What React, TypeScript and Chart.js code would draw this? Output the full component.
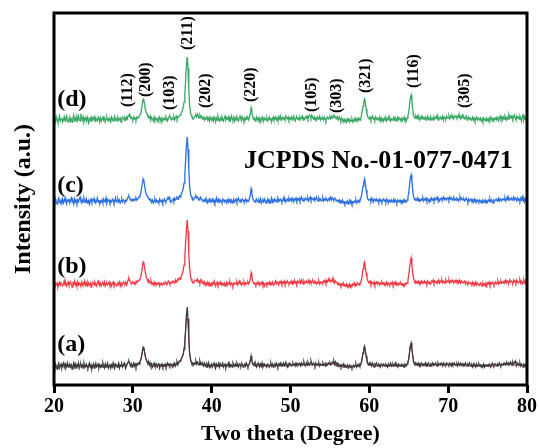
import React, { useEffect, useRef } from "react";
import { Chart, registerables } from "chart.js";

Chart.register(...registerables);

// 2θ grid: 20° to 80°; measured patterns in 0.1° steps (601 points), fit in 0.2° steps
const TWO_THETA_START = 20;
const TWO_THETA_STEP = 0.1;
const FIT_STEP = 0.2;

// Raw intensities (a.u.); each row = 1° of 2θ
const SAMPLE_D = [
  8,12,9,13,10,7,11,14,9,11,
  12,8,10,13,9,12,14,10,8,11,
  13,9,11,8,12,15,10,12,9,13,
  10,14,11,9,16,12,10,13,8,11,
  12,9,13,10,7,11,12,9,14,10,
  11,13,8,12,10,9,13,11,8,12,
  9,11,14,10,12,8,11,13,10,9,
  12,10,8,13,11,9,12,14,10,11,
  9,13,11,10,12,8,11,13,12,10,
  12,10,13,11,14,15,16,12,13,11,
  10,13,11,12,10,13,12,12,14,14,
  16,20,26,31,30,25,20,18,16,14,
  13,12,14,10,12,11,9,13,10,12,
  11,9,12,10,13,11,8,12,10,11,
  12,10,13,11,9,12,13,14,12,10,
  12,11,13,10,12,14,11,13,13,14,
  15,16,18,20,23,28,36,50,65,73,
  62,40,25,18,15,13,12,11,13,14,
  15,13,16,14,12,15,13,14,11,12,
  13,10,12,11,14,10,12,9,13,11,
  10,12,9,13,11,8,12,10,14,11,
  9,12,10,13,11,9,12,14,10,12,
  11,13,9,12,10,14,11,10,13,9,
  12,10,13,11,9,12,14,11,10,13,
  11,9,12,10,13,11,12,10,13,16,
  22,18,13,11,12,9,11,13,10,12,
  10,12,8,11,13,10,9,12,11,10,
  12,9,11,13,10,12,8,11,13,10,
  11,13,10,12,9,13,11,14,10,12,
  13,11,12,10,14,12,11,13,10,12,
  11,13,10,12,14,11,9,12,13,11,
  12,10,13,11,12,14,10,12,11,13,
  12,14,11,13,15,14,12,15,13,11,
  13,11,12,10,13,11,12,14,10,12,
  11,12,10,13,11,9,12,13,11,12,
  13,11,14,12,13,15,14,12,13,11,
  12,10,13,11,9,12,10,8,11,9,
  10,8,11,9,12,8,10,9,11,8,
  10,9,12,10,11,9,12,10,11,10,
  15,19,24,29,31,27,21,16,13,12,
  11,13,10,12,14,11,12,10,13,11,
  12,10,11,13,9,12,10,11,9,12,
  10,12,9,11,13,10,12,9,11,10,
  11,13,10,12,9,11,13,10,12,11,
  10,12,9,11,13,10,11,9,12,14,
  18,25,32,35,29,21,15,13,12,14,
  12,14,11,13,10,12,14,11,13,12,
  11,13,10,12,14,11,12,10,13,11,
  12,10,13,11,12,14,11,13,10,12,
  13,11,12,14,10,13,12,11,14,12,
  12,14,11,13,15,12,13,11,14,13,
  14,12,13,15,12,14,11,13,15,12,
  13,11,12,14,10,12,13,11,12,10,
  11,13,10,12,9,11,13,10,12,11,
  10,12,9,11,8,12,10,11,9,12,
  11,9,12,10,13,11,9,12,10,11,
  12,10,13,11,9,12,14,11,13,10,
  13,11,14,12,10,13,11,15,12,14,
  12,14,11,13,15,12,10,14,12,13,
  11,14,12,9,13,15,10,13,11,14,
  8,
];

const SAMPLE_C = [
  11,9,13,10,8,12,14,10,9,12,
  10,13,9,11,14,10,8,12,11,13,
  9,12,14,10,11,8,13,10,12,9,
  12,10,13,15,11,9,12,10,14,11,
  10,13,9,11,12,8,11,13,10,12,
  13,10,12,9,11,14,10,12,8,11,
  10,12,9,13,11,10,14,9,12,11,
  12,9,11,10,13,12,9,11,14,10,
  11,13,10,12,9,11,13,10,12,11,
  10,12,11,13,15,16,14,12,11,13,
  12,11,13,12,14,12,13,14,15,16,
  19,23,28,33,31,26,21,18,16,15,
  14,12,13,11,10,12,9,11,13,10,
  12,10,11,9,13,11,10,12,9,11,
  13,11,10,12,14,13,15,12,11,10,
  12,13,11,14,12,13,15,14,13,16,
  15,17,19,21,24,29,38,52,67,75,
  63,42,26,19,16,14,13,12,14,15,
  16,14,15,13,12,14,15,13,12,11,
  12,11,13,10,12,9,11,13,10,12,
  11,13,10,12,9,11,14,10,12,13,
  10,12,11,9,13,12,10,12,11,9,
  12,10,13,11,10,12,9,11,13,10,
  11,13,10,12,14,11,10,12,11,13,
  12,10,11,13,10,12,11,11,14,17,
  23,19,14,12,11,10,12,13,11,10,
  12,10,13,9,11,12,10,13,11,9,
  11,13,10,12,9,11,14,10,12,11,
  13,11,12,10,14,12,11,13,12,10,
  12,14,11,13,10,12,13,11,14,12,
  13,11,14,12,10,13,12,14,11,13,
  12,14,11,13,15,12,11,13,12,14,
  13,12,14,11,13,15,12,14,13,12,
  14,12,13,15,12,11,14,12,13,11,
  12,14,11,13,12,14,13,11,12,14,
  13,15,12,14,13,12,14,13,11,12,
  11,10,12,9,11,10,12,9,10,8,
  10,9,11,8,10,12,9,11,8,10,
  9,11,10,12,9,11,10,12,11,13,
  16,21,26,30,33,28,22,17,13,12,
  12,13,11,14,12,10,13,12,11,13,
  11,12,10,13,11,12,10,12,13,11,
  12,10,13,11,9,12,11,10,12,10,
  11,13,10,12,11,9,12,11,10,12,
  10,11,9,12,10,12,11,10,12,15,
  19,27,34,37,31,22,16,13,12,13,
  12,14,11,13,12,11,13,12,14,11,
  13,12,14,11,13,12,10,13,12,14,
  12,13,11,14,12,13,15,12,13,11,
  13,14,12,13,15,12,14,13,12,14,
  14,12,15,13,14,12,13,15,12,13,
  12,14,13,11,13,15,12,14,13,12,
  13,11,12,14,12,10,13,11,12,13,
  11,12,10,13,11,12,10,12,11,10,
  12,10,11,9,12,11,10,12,9,11,
  10,12,11,13,10,12,11,9,12,11,
  12,13,11,12,14,11,13,12,11,13,
  13,12,14,11,13,15,12,14,12,13,
  14,12,13,15,12,14,13,11,14,12,
  13,11,14,12,15,11,13,10,14,12,
  7,
];

const SAMPLE_B = [
  10,13,9,11,12,8,11,13,10,12,
  12,9,11,14,10,12,9,11,13,10,
  11,13,10,8,12,11,14,10,12,9,
  13,10,12,11,9,13,10,12,11,14,
  10,12,9,13,11,10,12,8,11,13,
  12,10,13,11,9,12,14,11,10,12,
  9,11,12,10,13,9,11,12,10,11,
  13,10,12,9,11,13,10,12,11,9,
  10,12,11,13,9,12,10,11,13,12,
  11,13,10,12,15,17,15,13,11,12,
  13,12,11,13,12,14,13,14,15,16,
  18,22,27,33,32,27,22,18,16,14,
  15,13,12,14,11,12,10,13,11,12,
  10,12,11,13,9,11,12,10,11,12,
  11,13,12,10,12,14,13,11,12,13,
  12,14,13,12,15,13,14,16,15,17,
  16,18,20,22,25,30,39,53,66,75,
  64,41,27,20,16,14,13,12,13,15,
  15,14,16,13,14,12,15,13,12,13,
  11,13,10,12,11,13,10,12,9,11,
  12,10,13,11,12,9,11,13,10,12,
  11,13,10,12,11,10,12,9,11,13,
  10,12,11,13,10,12,11,9,12,11,
  12,11,13,10,12,14,11,12,10,12,
  11,13,10,12,11,12,13,11,13,16,
  22,18,14,12,11,12,10,12,11,13,
  11,10,12,11,13,10,12,9,11,12,
  10,12,11,13,10,12,11,13,10,11,
  12,14,11,13,12,10,13,12,14,11,
  13,12,14,11,13,12,14,12,11,13,
  12,14,11,13,12,15,12,13,11,14,
  13,12,14,12,15,13,11,14,12,13,
  14,12,13,15,12,14,12,13,15,12,
  12,14,13,11,13,12,14,11,13,12,
  13,12,14,13,15,12,14,13,16,14,
  15,13,14,16,13,15,12,14,13,12,
  11,12,10,11,9,11,10,12,9,10,
  9,11,8,10,9,11,8,10,9,11,
  10,12,9,11,10,12,11,10,12,12,
  15,20,26,31,33,27,22,17,14,13,
  12,14,11,13,12,11,13,10,12,13,
  11,13,12,10,12,11,13,11,12,10,
  12,11,13,10,12,11,10,12,11,13,
  10,12,11,13,10,12,11,10,12,11,
  12,10,11,9,11,10,12,11,12,15,
  20,27,33,37,30,23,17,14,12,14,
  13,12,14,12,13,11,14,12,13,12,
  14,12,13,11,14,12,13,11,12,14,
  13,15,12,14,13,12,14,13,15,12,
  14,13,15,12,14,13,12,15,13,14,
  13,15,12,14,13,15,14,12,14,13,
  15,13,14,12,15,13,12,14,13,12,
  12,14,11,13,12,11,13,12,11,12,
  11,13,10,12,11,13,10,12,11,10,
  10,12,11,9,12,10,11,9,12,10,
  12,11,13,10,12,11,13,12,10,12,
  13,11,12,14,11,13,12,14,12,13,
  12,14,13,15,12,14,13,12,15,13,
  14,13,12,15,13,14,12,15,13,12,
  13,15,12,14,11,13,15,12,14,11,
  7,
];

const SAMPLE_A = [
  12,9,13,10,8,12,14,9,11,13,
  9,12,14,10,13,9,11,14,10,12,
  13,10,12,8,11,14,10,13,9,12,
  11,14,9,12,13,10,12,9,14,11,
  10,13,11,9,12,14,10,12,8,11,
  13,9,12,14,10,11,13,9,12,10,
  12,10,14,11,9,13,10,12,14,9,
  11,13,9,12,10,14,11,9,13,12,
  10,12,14,9,12,11,13,10,12,14,
  11,9,12,13,15,16,14,11,13,10,
  12,14,11,13,10,13,12,14,13,15,
  17,20,25,30,29,24,20,17,15,14,
  16,12,14,11,13,10,12,14,11,12,
  13,10,12,14,9,12,11,13,10,12,
  11,13,10,12,14,12,13,11,13,12,
  10,13,12,14,11,13,15,12,14,15,
  16,17,19,21,23,28,35,48,62,70,
  58,38,24,18,15,13,14,12,14,13,
  16,13,15,14,12,16,13,14,12,13,
  11,14,12,10,13,11,14,10,12,11,
  13,10,12,14,11,9,13,11,12,14,
  10,13,11,12,14,10,12,13,9,12,
  12,14,10,13,11,12,10,14,12,11,
  13,11,14,12,10,13,12,11,14,12,
  10,12,13,11,14,12,10,12,13,16,
  21,17,13,12,14,11,13,10,12,14,
  12,10,13,11,14,10,12,13,11,12,
  11,13,12,10,12,14,11,13,10,12,
  13,11,14,12,10,13,12,14,11,13,
  12,14,11,13,15,12,10,13,12,14,
  13,11,12,14,12,13,11,14,12,13,
  12,14,13,11,14,12,13,15,12,11,
  14,12,15,13,12,14,16,13,12,14,
  13,11,14,12,13,12,14,11,13,12,
  12,14,12,13,11,14,13,12,14,13,
  14,12,13,15,14,16,13,15,12,14,
  12,13,11,12,10,12,11,13,10,12,
  11,10,12,9,11,12,10,11,9,11,
  12,10,11,13,10,12,11,13,11,12,
  15,19,24,29,31,26,21,16,13,12,
  14,12,13,11,14,12,10,13,12,14,
  12,11,13,12,10,13,12,11,13,12,
  11,13,12,10,13,11,12,14,11,12,
  13,11,12,14,11,12,10,13,12,11,
  12,13,11,12,10,13,12,11,13,15,
  18,25,31,34,28,21,16,13,12,14,
  13,12,14,12,13,11,14,13,12,13,
  12,14,11,13,12,14,12,11,13,12,
  14,12,13,12,14,13,11,14,12,13,
  12,14,13,11,14,12,13,12,14,13,
  13,12,14,13,11,14,12,13,14,12,
  12,13,11,14,12,13,14,12,13,11,
  13,12,14,12,11,13,12,14,12,11,
  12,10,13,11,12,10,13,11,12,13,
  11,12,10,12,11,13,10,12,11,12,
  12,11,13,12,10,12,14,12,11,13,
  13,12,11,13,12,14,12,11,13,12,
  12,14,13,12,15,13,12,14,13,15,
  14,12,15,13,14,16,13,12,14,13,
  12,14,11,13,12,10,13,12,11,13,
  8,
];

// smoothed red trace drawn over sample (a), 0.2° steps
const SAMPLE_A_FIT = [
  10,10,11,10,12,10,11,10,11,10,
  11,12,10,11,11,12,11,10,11,11,
  11,11,10,11,12,10,10,11,11,10,
  11,11,12,10,11,10,11,11,10,11,
  11,11,11,11,11,12,11,15,14,12,
  11,12,12,13,14,17,25,29,20,15,
  14,13,12,11,11,10,11,12,11,11,
  11,10,11,11,12,12,11,12,14,16,
  16,19,23,35,60,57,24,15,13,13,
  14,13,13,14,12,12,12,12,11,11,
  11,12,11,11,10,11,12,11,11,11,
  11,11,12,11,11,11,11,12,12,11,
  11,12,12,12,14,20,13,12,12,12,
  11,11,10,11,11,11,11,11,12,11,
  11,11,12,11,12,11,12,12,11,12,
  12,12,12,13,12,12,12,12,12,12,
  13,12,12,12,12,13,12,12,12,12,
  12,12,12,12,13,14,13,13,12,11,
  11,11,11,10,10,10,11,10,10,11,
  10,11,10,11,11,15,24,30,21,13,
  12,12,12,11,11,11,11,11,12,11,
  11,11,11,12,11,11,11,11,11,11,
  11,11,11,12,13,18,31,28,16,13,
  12,12,11,12,11,12,11,11,11,11,
  11,12,12,11,12,13,12,12,12,12,
  12,12,12,13,12,12,12,12,11,12,
  12,11,12,11,11,11,11,11,11,11,
  11,11,11,10,11,11,11,11,11,11,
  11,12,12,12,13,13,12,13,14,13,
  12,12,12,11,12,11,12,11,11,11,
  8,
];

// vertical stacking offsets (a.u.)
const OFFSET_A = 8;
const OFFSET_B = 90;
const OFFSET_C = 173;
const OFFSET_D = 255;

const X_TICKS = [20, 30, 40, 50, 60, 70, 80];
const Y_MAX = 372;

// Miller indices: label, 2θ position, intensity where text starts
const HKL_LABELS = ["(112)", "(200)", "(103)", "(211)", "(202)", "(220)", "(105)", "(303)", "(321)", "(116)", "(305)"];
const HKL_X = [29.4, 31.6, 34.75, 37.0, 39.2, 45.0, 52.7, 55.9, 59.5, 65.6, 72.1];
const HKL_Y = [278, 288, 275, 335, 277, 283, 273, 272, 292, 297, 277];

const SAMPLE_LABELS = ["(d)", "(c)", "(b)", "(a)"];
const SAMPLE_LABEL_Y = [285, 199, 118, 40];
const SAMPLE_LABEL_X = 20.4;

const CARD_TEXT = "JCPDS No.-01-077-0471";
const CARD_X = 44.1;
const CARD_Y = 224;

const FONT = "'Liberation Serif', 'Times New Roman', serif";

function toPoints(values: number[], offset: number, step: number) {
  return values.map((v, i) => ({ x: TWO_THETA_START + i * step, y: v + offset }));
}

const framePlugin = {
  id: "frameAndText",
  afterDraw(chart: any) {
    const { ctx, chartArea, scales } = chart;
    const xs = scales.x;
    const ys = scales.y;
    ctx.save();
    ctx.strokeStyle = "#000";
    ctx.lineWidth = 3;
    ctx.strokeRect(chartArea.left, chartArea.top, chartArea.right - chartArea.left, chartArea.bottom - chartArea.top);
    ctx.fillStyle = "#000";
    ctx.font = `bold 16px ${FONT}`;
    ctx.textAlign = "left";
    ctx.textBaseline = "middle";
    HKL_LABELS.forEach((t, i) => {
      const px = xs.getPixelForValue(HKL_X[i]);
      const py = ys.getPixelForValue(HKL_Y[i]);
      ctx.save();
      ctx.translate(px, py);
      ctx.rotate(-Math.PI / 2);
      ctx.fillText(t, 0, 0);
      ctx.restore();
    });
    ctx.font = `bold 24px ${FONT}`;
    SAMPLE_LABELS.forEach((t, i) => {
      ctx.fillText(t, xs.getPixelForValue(SAMPLE_LABEL_X), ys.getPixelForValue(SAMPLE_LABEL_Y[i]));
    });
    ctx.font = `bold 26px ${FONT}`;
    ctx.fillText(CARD_TEXT, xs.getPixelForValue(CARD_X), ys.getPixelForValue(CARD_Y));
    ctx.restore();
  },
};

export default function App() {
  const ref = useRef<HTMLCanvasElement | null>(null);
  useEffect(() => {
    if (!ref.current) return;
    const line = (data: any, color: string, width = 1.3) => ({
      data,
      borderColor: color,
      borderWidth: width,
      pointRadius: 0,
      tension: 0,
      fill: false,
    });
    const chart = new Chart(ref.current, {
      type: "line",
      data: {
        datasets: [
          line(toPoints(SAMPLE_D, OFFSET_D, TWO_THETA_STEP), "#3aa864"),
          line(toPoints(SAMPLE_C, OFFSET_C, TWO_THETA_STEP), "#2b6fde"),
          line(toPoints(SAMPLE_B, OFFSET_B, TWO_THETA_STEP), "#ee3a44"),
          line(toPoints(SAMPLE_A, OFFSET_A, TWO_THETA_STEP), "#3c3c3c"),
          line(toPoints(SAMPLE_A_FIT, OFFSET_A, FIT_STEP), "#c8242c", 1),
        ],
      },
      options: {
        animation: false,
        responsive: false,
        layout: { padding: { top: 13, right: 9, left: 0, bottom: 0 } },
        plugins: { legend: { display: false }, tooltip: { enabled: false } },
        scales: {
          x: {
            type: "linear",
            min: 20,
            max: 80,
            afterFit: (s: any) => { s.height = 63; },
            afterBuildTicks: (s: any) => { s.ticks = X_TICKS.map((v) => ({ value: v })); },
            border: { display: false },
            grid: { display: true, drawOnChartArea: false, drawTicks: true, tickLength: 8, tickWidth: 3, tickColor: "#000" },
            ticks: { color: "#000", font: { family: FONT, size: 20, weight: "bold" }, padding: 2, maxRotation: 0 },
            title: {
              display: true,
              text: "Two theta (Degree)",
              color: "#000",
              font: { family: FONT, size: 22, weight: "bold" },
              padding: { top: 0, bottom: 0 },
            },
          },
          y: {
            type: "linear",
            min: 0,
            max: Y_MAX,
            afterFit: (s: any) => { s.width = 54; },
            border: { display: false },
            grid: { display: false },
            ticks: { display: false },
            title: {
              display: true,
              text: "Intensity (a.u.)",
              color: "#000",
              font: { family: FONT, size: 24, weight: "bold" },
              padding: { top: 9, bottom: 0 },
            },
          },
        },
      },
      plugins: [framePlugin],
    } as any);
    return () => chart.destroy();
  }, []);
  return (
    <div style={{ position: "fixed", left: 0, top: 0, width: 539, height: 448, background: "#fff" }}>
      <canvas ref={ref} width={539} height={448} />
    </div>
  );
}
